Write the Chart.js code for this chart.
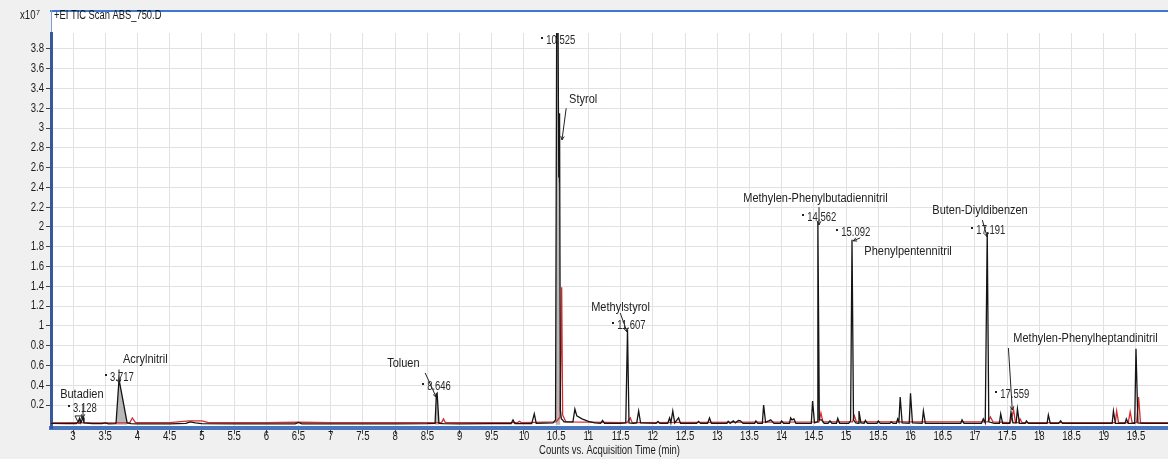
<!DOCTYPE html>
<html>
<head>
<meta charset="utf-8">
<title>+EI TIC Scan ABS_750.D</title>
<script src="https://cdn.jsdelivr.net/npm/chart.js@4.4.1/dist/chart.umd.min.js"></script>
<style>
  html, body { margin: 0; padding: 0; background: #f0f0f0; }
  canvas { display: block; }
</style>
</head>
<body>
<canvas id="tic" width="1168" height="459"></canvas>
<script>
// TIC trace of the sample: [acquisition time (min), counts x10^7]
const sampleTrace = [
  [2.66, 0.015], [2.9, 0.012], [3.05, 0.012], [3.08, 0.03], [3.10, 0.065], [3.12, 0.02],
  [3.14, 0.05], [3.155, 0.075], [3.17, 0.02], [3.3, 0.012], [3.45, 0.012], [3.5, 0.02],
  [3.55, 0.01], [3.66, 0.012], [3.668, 0.02], [3.714, 0.46], [3.84, 0.02], [3.9, 0.012],
  [4.0, 0.01], [4.5, 0.01], [4.75, 0.015], [4.82, 0.03], [4.9, 0.02], [5.0, 0.012],
  [5.5, 0.01], [6.0, 0.01], [6.45, 0.01], [6.5, 0.025], [6.55, 0.01], [7.0, 0.01],
  [7.5, 0.01], [8.0, 0.01], [8.5, 0.012], [8.62, 0.015], [8.64, 0.31], [8.652, 0.32],
  [8.68, 0.015], [8.75, 0.012], [9.0, 0.01], [9.5, 0.012], [9.8, 0.012], [9.83, 0.05],
  [9.86, 0.012], [10.12, 0.012], [10.16, 0.11], [10.19, 0.015], [10.45, 0.02], [10.49, 0.05],
  [10.51, 4.6], [10.525, 4.6], [10.535, 3.15], [10.54, 2.5], [10.545, 3.15], [10.55, 2.45],
  [10.555, 3.1], [10.565, 0.15], [10.58, 0.06], [10.6, 0.05], [10.62, 0.03], [10.7, 0.03],
  [10.76, 0.03], [10.79, 0.16], [10.82, 0.09], [10.9, 0.06], [11.0, 0.035], [11.1, 0.02],
  [11.19, 0.015], [11.22, 0.045], [11.25, 0.015], [11.5, 0.015], [11.58, 0.02], [11.607, 0.96],
  [11.63, 0.02], [11.7, 0.015], [11.75, 0.02], [11.78, 0.14], [11.81, 0.02], [12.05, 0.015],
  [12.08, 0.035], [12.11, 0.015], [12.23, 0.015], [12.26, 0.07], [12.28, 0.02], [12.31, 0.14],
  [12.34, 0.02], [12.4, 0.07], [12.43, 0.015], [12.68, 0.015], [12.71, 0.035], [12.74, 0.015],
  [12.85, 0.015], [12.88, 0.07], [12.91, 0.015], [13.15, 0.015], [13.17, 0.035], [13.2, 0.015],
  [13.25, 0.04], [13.28, 0.02], [13.33, 0.045], [13.36, 0.04], [13.4, 0.015], [13.58, 0.015],
  [13.6, 0.04], [13.63, 0.015], [13.7, 0.015], [13.72, 0.2], [13.75, 0.025], [13.8, 0.04],
  [13.83, 0.05], [13.88, 0.015], [13.98, 0.015], [14.0, 0.04], [14.03, 0.015], [14.12, 0.015],
  [14.14, 0.07], [14.16, 0.05], [14.19, 0.06], [14.22, 0.015], [14.46, 0.015], [14.48, 0.24],
  [14.51, 0.02], [14.55, 0.03], [14.562, 2.06], [14.585, 0.05], [14.62, 0.05], [14.66, 0.015],
  [14.72, 0.015], [14.75, 0.04], [14.78, 0.015], [14.85, 0.015], [14.87, 0.065], [14.9, 0.015],
  [15.04, 0.015], [15.07, 0.04], [15.092, 1.87], [15.115, 0.05], [15.15, 0.02], [15.19, 0.015],
  [15.2, 0.14], [15.23, 0.02], [15.28, 0.015], [15.3, 0.045], [15.33, 0.015], [15.48, 0.015],
  [15.5, 0.04], [15.53, 0.015], [15.68, 0.015], [15.7, 0.03], [15.73, 0.015], [15.78, 0.015],
  [15.8, 0.06], [15.82, 0.03], [15.84, 0.28], [15.87, 0.02], [15.98, 0.015], [16.0, 0.32],
  [16.03, 0.02], [16.18, 0.015], [16.2, 0.14], [16.23, 0.015], [16.5, 0.015], [16.78, 0.015],
  [16.8, 0.05], [16.83, 0.015], [17.1, 0.015], [17.13, 0.06], [17.16, 0.02], [17.191, 1.95],
  [17.215, 0.03], [17.3, 0.015], [17.38, 0.015], [17.4, 0.11], [17.43, 0.015], [17.54, 0.015],
  [17.56, 0.13], [17.59, 0.02], [17.64, 0.02], [17.66, 0.16], [17.69, 0.015], [17.78, 0.015],
  [17.8, 0.04], [17.83, 0.015], [18.0, 0.015], [18.12, 0.015], [18.14, 0.1], [18.17, 0.015],
  [18.3, 0.015], [18.33, 0.04], [18.36, 0.015], [18.6, 0.015], [19.13, 0.015], [19.15, 0.14],
  [19.18, 0.015], [19.33, 0.015], [19.35, 0.06], [19.38, 0.015], [19.48, 0.015], [19.5, 0.77],
  [19.53, 0.02], [19.6, 0.015], [20.0, 0.015]
];

// overlaid second TIC (red)
const compareTrace = [
  [2.66, 0.02], [3.0, 0.022], [3.3, 0.02], [3.7, 0.02], [3.88, 0.02], [3.92, 0.07],
  [3.97, 0.022], [4.5, 0.022], [4.8, 0.04], [5.0, 0.04], [5.1, 0.022], [6.0, 0.022],
  [6.5, 0.028], [7.0, 0.022], [8.0, 0.022], [8.72, 0.022], [8.75, 0.06], [8.78, 0.022],
  [9.9, 0.022], [9.93, 0.035], [9.96, 0.022], [10.5, 0.03], [10.56, 0.08], [10.585, 1.39],
  [10.6, 0.1], [10.65, 0.03], [11.6, 0.022], [11.65, 0.07], [11.68, 0.022], [14.58, 0.03],
  [14.61, 0.12], [14.64, 0.03], [15.1, 0.03], [15.13, 0.09], [15.16, 0.03], [17.2, 0.03],
  [17.24, 0.08], [17.28, 0.03], [17.55, 0.022], [17.6, 0.15], [17.63, 0.022], [17.68, 0.022],
  [17.7, 0.06], [17.73, 0.022], [19.18, 0.022], [19.2, 0.14], [19.23, 0.022], [19.38, 0.022],
  [19.41, 0.13], [19.44, 0.022], [19.51, 0.022], [19.54, 0.28], [19.57, 0.022], [20.0, 0.022]
];

// integrated peak areas (grey) and the Butadien integration marker
const acrylnitrilArea = [[3.668, 0.02], [3.714, 0.46], [3.84, 0.02]];
const toluenArea = [[8.62, 0.015], [8.64, 0.31], [8.652, 0.32], [8.68, 0.015]];
const styrolArea = [[10.49, 0.05], [10.51, 4.6], [10.525, 4.6], [10.535, 3.15], [10.54, 2.5],
  [10.545, 3.15], [10.55, 2.45], [10.555, 3.1], [10.565, 0.15]];
const butadienMarker = [[3.031, 0.09], [3.14, 0.09], [3.093, 0.008], [3.031, 0.09]];

// axis ticks
const xTicks = [3, 3.5, 4, 4.5, 5, 5.5, 6, 6.5, 7, 7.5, 8, 8.5, 9, 9.5, 10, 10.5, 11, 11.5,
  12, 12.5, 13, 13.5, 14, 14.5, 15, 15.5, 16, 16.5, 17, 17.5, 18, 18.5, 19, 19.5];
const yTicks = [0.2, 0.4, 0.6, 0.8, 1, 1.2, 1.4, 1.6, 1.8, 2, 2.2, 2.4, 2.6, 2.8, 3, 3.2, 3.4, 3.6, 3.8];

// compound names (left edge / vertical centre of the text)
const compoundNames = ['Butadien', 'Acrylnitril', 'Toluen', 'Styrol', 'Methylstyrol',
  'Methylen-Phenylbutadiennitril', 'Phenylpentennitril', 'Buten-Diyldibenzen',
  'Methylen-Phenylheptandinitril'];
const nameTime = [2.80, 3.776, 7.876, 10.70, 11.043, 13.404, 15.283, 16.339, 17.596];
const nameCounts = [0.311, 0.665, 0.616, 3.293, 1.19, 2.29, 1.755, 2.17, 0.877];

// retention time labels (marker dot position / text centre)
const rtLabels = ['3.128', '3.717', '8.646', '10.525', '11.607', '14.562', '15.092', '17.191', '17.559'];
const rtTime = [2.938, 3.512, 8.435, 10.283, 11.385, 14.335, 14.863, 16.96, 17.332];
const rtCounts = [0.16, 0.473, 0.382, 3.88, 1.0, 2.09, 1.94, 1.96, 0.30];

// leader lines from the names to their peaks
const leaderFrom = [[3.155, 0.21], [3.714, 0.56], [8.466, 0.525], [10.655, 3.2], [11.494, 1.13],
  [14.58, 2.2], [15.22, 1.89], [17.115, 2.07], [17.52, 0.776]];
const leaderTo = [[3.155, 0.07], [3.714, 0.42], [8.637, 0.28], [10.59, 2.88], [11.60, 0.94],
  [14.58, 2.02], [15.11, 1.86], [17.19, 1.9], [17.58, 0.15]];

const FONT = '"Liberation Sans", Arial, sans-serif';
const toPoints = arr => arr.map(p => ({ x: p[0], y: p[1] }));

// the screenshot font is narrow, so squeeze text horizontally
function squeezeText(ctx, text, x, y, size, align, sx, color) {
  ctx.save();
  ctx.font = size + 'px ' + FONT;
  ctx.fillStyle = color || '#1a1a1a';
  ctx.textAlign = align;
  ctx.textBaseline = 'middle';
  ctx.translate(x, y);
  ctx.scale(sx, 1);
  ctx.fillText(text, 0, 0);
  ctx.restore();
}

function leader(ctx, x1, y1, x2, y2) {
  ctx.beginPath();
  ctx.moveTo(x1, y1);
  ctx.lineTo(x2, y2);
  const a = Math.atan2(y2 - y1, x2 - x1);
  ctx.moveTo(x2 - 4 * Math.cos(a - 0.45), y2 - 4 * Math.sin(a - 0.45));
  ctx.lineTo(x2, y2);
  ctx.lineTo(x2 - 4 * Math.cos(a + 0.45), y2 - 4 * Math.sin(a + 0.45));
  ctx.stroke();
}

const panelPlugin = {
  id: 'panel',
  beforeDraw(chart) {
    const { ctx, chartArea: a, width, height } = chart;
    ctx.save();
    ctx.fillStyle = '#f0f0f0';
    ctx.fillRect(0, 0, width, height);
    ctx.fillStyle = '#ffffff';
    ctx.fillRect(a.left, 10, width - a.left, a.bottom - 10);
    ctx.strokeStyle = '#3d77cf';
    ctx.lineWidth = 2;
    ctx.beginPath(); ctx.moveTo(a.left - 1, 11); ctx.lineTo(width, 11); ctx.stroke();
    ctx.strokeStyle = '#7d9fd8';
    ctx.lineWidth = 1;
    ctx.beginPath(); ctx.moveTo(a.left + 0.5, 10); ctx.lineTo(a.left + 0.5, a.top); ctx.stroke();
    ctx.restore();
  },
  afterDraw(chart) {
    const { ctx, chartArea: a } = chart;
    const xs = chart.scales.x, ys = chart.scales.y;

    xs.ticks.forEach(t => squeezeText(ctx, String(t.value), xs.getPixelForValue(t.value), 437, 12, 'center', 0.8));
    ys.ticks.forEach(t => squeezeText(ctx, String(t.value), a.left - 7, ys.getPixelForValue(t.value), 12, 'right', 0.8));

    squeezeText(ctx, 'x10', 20, 16, 12, 'left', 0.8);
    squeezeText(ctx, '7', 36, 13, 8, 'left', 0.9);
    squeezeText(ctx, '+EI TIC Scan ABS_750.D', a.left + 3, 16, 12, 'left', 0.78);
    squeezeText(ctx, 'Counts vs. Acquisition Time (min)', (a.left + a.right) / 2, 451, 12, 'center', 0.79);

    compoundNames.forEach((name, i) => {
      squeezeText(ctx, name, xs.getPixelForValue(nameTime[i]), ys.getPixelForValue(nameCounts[i]), 12.5, 'left', 0.88, '#222');
    });

    rtLabels.forEach((rt, i) => {
      const px = xs.getPixelForValue(rtTime[i]);
      const py = ys.getPixelForValue(rtCounts[i]);
      ctx.fillStyle = '#222';
      ctx.fillRect(Math.round(px) - 1, Math.round(py) - 4, 2, 2);
      squeezeText(ctx, rt, px + 4, py, 12, 'left', 0.79, '#2a2a2a');
    });

    ctx.save();
    ctx.strokeStyle = '#222';
    ctx.lineWidth = 1;
    leaderFrom.forEach((from, i) => {
      const to = leaderTo[i];
      leader(ctx, xs.getPixelForValue(from[0]), ys.getPixelForValue(from[1]),
        xs.getPixelForValue(to[0]), ys.getPixelForValue(to[1]));
    });
    ctx.restore();
  }
};

const areaStyle = { fill: 'origin', backgroundColor: '#b9b9b9', borderWidth: 0, pointRadius: 0, tension: 0 };

new Chart(document.getElementById('tic'), {
  type: 'line',
  data: {
    datasets: [
      { label: 'ABS_750', data: toPoints(sampleTrace), borderColor: '#151515', borderWidth: 1.3, pointRadius: 0, tension: 0 },
      { label: 'Vergleich', data: toPoints(compareTrace), borderColor: '#d62b2b', borderWidth: 1.3, pointRadius: 0, tension: 0 },
      { label: 'Butadien', data: toPoints(butadienMarker), borderColor: '#222', borderWidth: 1, pointRadius: 0, tension: 0 },
      Object.assign({ label: 'Acrylnitril', data: toPoints(acrylnitrilArea) }, areaStyle),
      Object.assign({ label: 'Toluen', data: toPoints(toluenArea) }, areaStyle),
      Object.assign({ label: 'Styrol', data: toPoints(styrolArea) }, areaStyle)
    ]
  },
  options: {
    responsive: false,
    animation: false,
    layout: { padding: { top: 33, right: 0, bottom: 0, left: 0 } },
    plugins: {
      legend: { display: false },
      tooltip: { enabled: false }
    },
    scales: {
      x: {
        type: 'linear',
        min: 2.658,
        max: 19.997,
        afterBuildTicks: s => { s.ticks = xTicks.map(v => ({ value: v })); },
        afterFit: s => { s.height = 31; },
        ticks: { display: false },
        grid: { color: '#e2e2e2', lineWidth: 1, drawTicks: true, tickLength: 6, tickColor: '#444' },
        border: { display: true, color: '#4a76bd', width: 4 }
      },
      y: {
        type: 'linear',
        min: -0.032,
        max: 3.961,
        afterBuildTicks: s => { s.ticks = yTicks.map(v => ({ value: v })); },
        afterFit: s => { s.width = 51; },
        ticks: { display: false },
        grid: { color: '#e2e2e2', lineWidth: 1, drawTicks: true, tickLength: 5, tickColor: '#444' },
        border: { display: true, color: '#36599c', width: 3 }
      }
    }
  },
  plugins: [panelPlugin]
});
</script>
</body>
</html>
